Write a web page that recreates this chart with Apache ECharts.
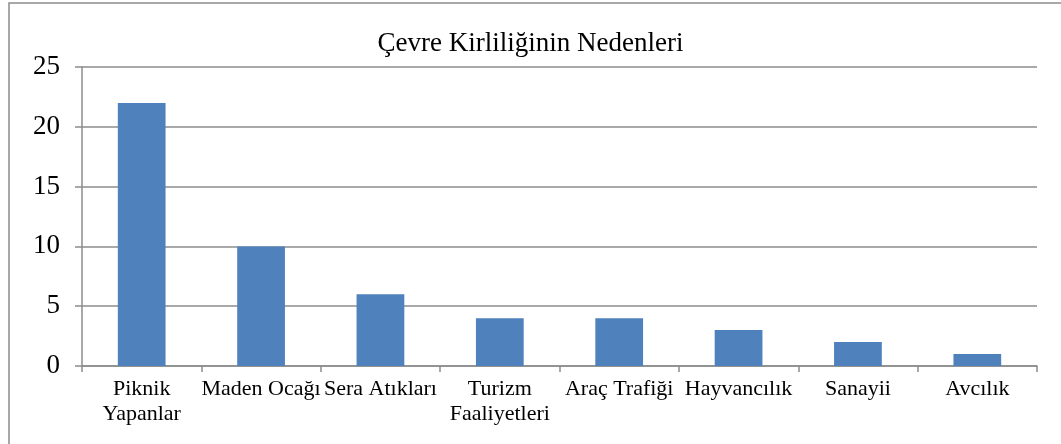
<!DOCTYPE html>
<html>
<head>
<meta charset="utf-8">
<script src="https://cdn.jsdelivr.net/npm/echarts@6/dist/echarts.min.js"></script>
<style>
  html, body { margin: 0; padding: 0; background: #fff; }
  #main { width: 1061px; height: 444px; }
</style>
</head>
<body>
<div id="main"></div>
<script>
var categories = ['Piknik\nYapanlar', 'Maden Ocağı', 'Sera Atıkları', 'Turizm\nFaaliyetleri',
    'Araç Trafiği', 'Hayvancılık', 'Sanayii', 'Avcılık'];
var values = [22, 10, 6, 4, 4, 3, 2, 1];
var yTicks = [0, 5, 10, 15, 20, 25];

var chart = echarts.init(document.getElementById('main'));
var serif = '"Liberation Serif", "DejaVu Serif", serif';

var option = {
    animation: false,
    backgroundColor: '#fff',
    textStyle: { fontFamily: serif },
    title: {
        text: 'Çevre Kirliliğinin Nedenleri',
        left: 'center',
        top: 25,
        textStyle: { fontFamily: serif, fontSize: 27, fontWeight: 'normal', color: '#000' }
    },
    graphic: [{
        type: 'rect',
        shape: { x: 9, y: 3, width: 1200, height: 600 },
        style: { fill: 'none', stroke: '#8c8c8c', lineWidth: 1.5 },
        silent: true
    }],
    grid: { left: 82, right: 24, top: 67, bottom: 78, containLabel: false },
    xAxis: {
        type: 'category',
        data: categories,
        axisLine: { lineStyle: { color: '#8c8c8c', width: 1.5 } },
        axisTick: { show: true, length: 6, lineStyle: { color: '#8c8c8c', width: 1.5 } },
        axisLabel: { color: '#000', fontSize: 22, fontFamily: serif, margin: 11, lineHeight: 25, interval: 0 }
    },
    yAxis: {
        type: 'value',
        min: yTicks[0],
        max: yTicks[yTicks.length - 1],
        interval: 5,
        axisLine: { show: true, lineStyle: { color: '#8c8c8c', width: 1.5 } },
        axisTick: { show: true, length: 7, lineStyle: { color: '#8c8c8c', width: 1.5 } },
        axisLabel: { color: '#000', fontSize: 27, fontFamily: serif, margin: 22 },
        splitLine: { lineStyle: { color: '#8c8c8c', width: 1.5 } }
    },
    series: [{
        type: 'bar',
        data: values,
        barWidth: '40%',
        itemStyle: { color: '#4f81bd' }
    }]
};
chart.setOption(option);
</script>
</body>
</html>
